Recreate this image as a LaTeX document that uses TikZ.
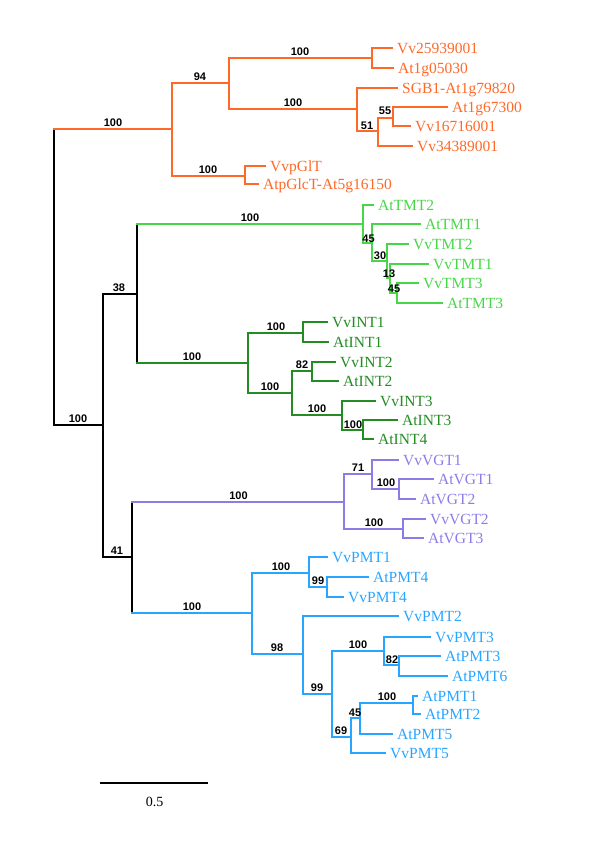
\documentclass[tikz,border=0pt]{standalone}
\usepackage{fontspec}
\setmainfont{Liberation Serif}
\newfontfamily\bsfont{Liberation Sans}
\definecolor{cor}{RGB}{255,105,40}
\definecolor{clg}{RGB}{70,215,70}
\definecolor{cdg}{RGB}{35,140,35}
\definecolor{cpu}{RGB}{140,125,230}
\definecolor{cbl}{RGB}{40,165,255}
\begin{document}
\begin{tikzpicture}[x=1pt,y=-1pt,
  br/.style={line width=1.9pt,line cap=rect},
  leaf/.style={anchor=base west,inner sep=0pt,xshift=5pt,yshift=-5pt,font=\fontsize{15.5}{18}\selectfont},
  bs/.style={anchor=base,inner sep=0pt,font=\bsfont\bfseries\fontsize{11}{13}\selectfont}]
\useasboundingbox (0,0) rectangle (600,852);
% ---------- coordinates ----------
\coordinate (r0) at (54,277);
\coordinate (b1) at (103,425);
\coordinate (b2) at (137,294);
\coordinate (b3) at (132,557);
\foreach \n/\x/\y in {o1/172/129,o2/229/83,o3/245/176,o4/372/58,o5/357/109,o6/378/131,o7/393/118,
  g1/363/224,g2/372/243,g3/387/261,g4/390/278,g5/397/293,
  d1/248/363,d2/303/333,d3/292/393,d4/312/371,d5/342/415,d6/363/430,
  p1/344/502,p2/372/474,p3/403/529,p4/399/489,
  q1/252/613,q2/309/573,q3/303/654,q4/327/587,q5/332/694,q6/384/651,q7/351/737,q8/399/665,q9/360/718,q10/413/703}
  {\coordinate (\n) at (\x,\y);}
% ---------- leaves ----------
\foreach \n/\x/\y/\t in {l1/392/48/Vv25939001,l2/393/68/At1g05030,l3/397/88/SGB1-At1g79820,l4/447/107/At1g67300,
  l5/410/126/Vv16716001,l6/412/146/Vv34389001,l7/265/166/VvpGlT,l8/258/184/AtpGlcT-At5g16150}
  {\coordinate (\n) at (\x,\y); \node[leaf,text=cor] (t\n) at (\n) {\t};}
\foreach \n/\x/\y/\t in {l9/373/205/AtTMT2,l10/420/224/AtTMT1,l11/408/244/VvTMT2,l12/428/264/VvTMT1,l13/418/283/VvTMT3,l14/442/303/AtTMT3}
  {\coordinate (\n) at (\x,\y); \node[leaf,text=clg] (t\n) at (\n) {\t};}
\foreach \n/\x/\y/\t in {l15/327/322/VvINT1,l16/328/342/AtINT1,l17/335/362/VvINT2,l18/338/381/AtINT2,l19/375/401/VvINT3,l20/397/420/AtINT3,l21/373/439/AtINT4}
  {\coordinate (\n) at (\x,\y); \node[leaf,text=cdg] (t\n) at (\n) {\t};}
\foreach \n/\x/\y/\t in {l22/398/460/VvVGT1,l23/433/479/AtVGT1,l24/415/499/AtVGT2,l25/425/519/VvVGT2,l26/423/538/AtVGT3}
  {\coordinate (\n) at (\x,\y); \node[leaf,text=cpu] (t\n) at (\n) {\t};}
\foreach \n/\x/\y/\t in {l27/327/557/VvPMT1,l28/368/577/AtPMT4,l29/343/597/VvPMT4,l30/398/616/VvPMT2,l31/430/637/VvPMT3,
  l32/440/656/AtPMT3,l33/447/676/AtPMT6,l34/417/696/AtPMT1,l35/420/714/AtPMT2,l36/392/734/AtPMT5,l37/385/753/VvPMT5}
  {\coordinate (\n) at (\x,\y); \node[leaf,text=cbl] (t\n) at (\n) {\t};}
% ---------- verticals ----------
\draw[br,black] (r0 |- o1) -- (r0 |- b1);
\draw[br,black] (b1 |- b2) -- (b1 |- b3);
\draw[br,black] (b2 |- g1) -- (b2 |- d1);
\draw[br,black] (b3 |- p1) -- (b3 |- q1);
\foreach \p/\a/\b in {o1/o2/o3,o2/o4/o5,o3/l7/l8,o4/l1/l2,o5/l3/o6,o6/o7/l6,o7/l4/l5}
  {\draw[br,cor] (\p |- \a) -- (\p |- \b);}
\foreach \p/\a/\b in {g1/l9/g2,g2/l10/g3,g3/l11/g4,g4/l12/g5,g5/l13/l14}
  {\draw[br,clg] (\p |- \a) -- (\p |- \b);}
\foreach \p/\a/\b in {d1/d2/d3,d2/l15/l16,d3/d4/d5,d4/l17/l18,d5/l19/d6,d6/l20/l21}
  {\draw[br,cdg] (\p |- \a) -- (\p |- \b);}
\foreach \p/\a/\b in {p1/p2/p3,p2/l22/p4,p4/l23/l24,p3/l25/l26}
  {\draw[br,cpu] (\p |- \a) -- (\p |- \b);}
\foreach \p/\a/\b in {q1/q2/q3,q2/l27/q4,q4/l28/l29,q3/l30/q5,q5/q6/q7,q6/l31/q8,q8/l32/l33,q7/q9/l37,q9/q10/l36,q10/l34/l35}
  {\draw[br,cbl] (\p |- \a) -- (\p |- \b);}
% ---------- horizontals ----------
\draw[br,black] (r0 |- b1) -- (b1);
\draw[br,black] (b1 |- b2) -- (b2);
\draw[br,black] (b1 |- b3) -- (b3);
\draw[br,cor] (r0 |- o1) -- (o1);
\draw[br,clg] (b2 |- g1) -- (g1);
\draw[br,cdg] (b2 |- d1) -- (d1);
\draw[br,cpu] (b3 |- p1) -- (p1);
\draw[br,cbl] (b3 |- q1) -- (q1);
\foreach \p/\c in {o1/o2,o1/o3,o2/o4,o2/o5,o3/l7,o3/l8,o4/l1,o4/l2,o5/l3,o5/o6,o6/o7,o6/l6,o7/l4,o7/l5}
  {\draw[br,cor] (\p |- \c) -- (\c);}
\foreach \p/\c in {g1/l9,g1/g2,g2/l10,g2/g3,g3/l11,g3/g4,g4/l12,g4/g5,g5/l13,g5/l14}
  {\draw[br,clg] (\p |- \c) -- (\c);}
\foreach \p/\c in {d1/d2,d1/d3,d2/l15,d2/l16,d3/d4,d3/d5,d4/l17,d4/l18,d5/l19,d5/d6,d6/l20,d6/l21}
  {\draw[br,cdg] (\p |- \c) -- (\c);}
\foreach \p/\c in {p1/p2,p1/p3,p2/l22,p2/p4,p4/l23,p4/l24,p3/l25,p3/l26}
  {\draw[br,cpu] (\p |- \c) -- (\c);}
\foreach \p/\c in {q1/q2,q1/q3,q2/l27,q2/q4,q4/l28,q4/l29,q3/l30,q3/q5,q5/q6,q5/q7,q6/l31,q6/q8,q8/l32,q8/l33,q7/q9,q7/l37,q9/q10,q9/l36,q10/l34,q10/l35}
  {\draw[br,cbl] (\p |- \c) -- (\c);}
% ---------- bootstrap values ----------
\foreach \n/\x/\y/\t in {s1/113/126.5/100,s2/200/80.5/94,s3/208/173.5/100,s4/300/55.5/100,s5/293/106.5/100,s6/367/129/51,s7/385/114.5/55,
  s8/78/422.5/100,s9/119/291.5/38,s10/250/221.5/100,s11/368.5/242/45,s12/380/259/30,s13/389/277/13,s14/394/292/45,
  s15/192/360.5/100,s16/276/330.5/100,s17/270/390.5/100,s18/302/368.5/82,s19/317/412.5/100,s20/353/428/100,
  s21/117/554.5/41,s22/238.5/499.5/100,s23/358/471.5/71,s24/386/486.5/100,s25/374/526.5/100,
  s26/192/610.5/100,s27/281/570.5/100,s28/318/584.5/99,s29/277/651.5/98,s30/317/691.5/99,s31/358/648.5/100,
  s32/392/663/82,s33/341/734.5/69,s34/355/716/45,s35/387/700.5/100}
  {\node[bs] (\n) at (\x,\y) {\t};}
% ---------- scale bar ----------
\coordinate (sb1) at (100,783);
\coordinate (sb2) at (208,783);
\draw[line width=1.9pt,black] (sb1) -- (sb2);
\node[anchor=base,inner sep=0pt,font=\fontsize{14}{16}\selectfont] (sbl) at (154.5,806) {0.5};
\end{tikzpicture}
\end{document}
